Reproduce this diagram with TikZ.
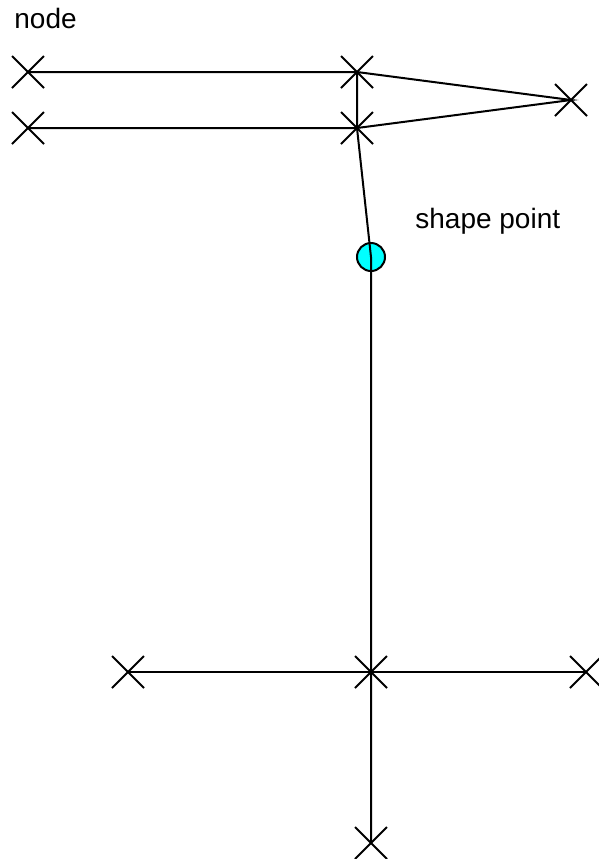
\documentclass[tikz,border=0pt]{standalone}
\usepackage{fontspec}
\setmainfont{Liberation Sans}
\usetikzlibrary{shapes.misc}
\definecolor{aqua}{RGB}{0,255,255}

\begin{document}
\begin{tikzpicture}[
        x=0.5pt, y=-0.5pt,
        mark_x/.style={cross out, draw=black, line width=1pt, minimum size=15pt, inner sep=0pt},
        shape_pt/.style={circle, draw=black, fill=aqua, line width=1pt, minimum size=14pt, inner sep=0pt},
        label_txt/.style={font=\fontsize{14}{16}\selectfont, anchor=base west, inner sep=0pt},
        link/.style={draw=black, line width=1pt}
    ]
    \useasboundingbox (0,0) rectangle (599,859);
    \node[label_txt] (node_lbl) at (14,28) {node};
    \node[label_txt] (shape_lbl) at (415,228) {shape point};
    \node[mark_x] (a1) at (28,72) {};
    \node[mark_x] (a2) at (28,128) {};
    \node[mark_x] (b1) at (357,72) {};
    \node[mark_x] (b2) at (357,128) {};
    \node[mark_x] (tip) at (571,100) {};
    \node[shape_pt] (sp) at (371,257) {};
    \node[mark_x] (hub) at (371,672) {};
    \node[mark_x] (left) at (128,672) {};
    \node[mark_x] (right) at (586,672) {};
    \node[mark_x] (foot) at (371,843) {};
    \draw[link] (a1.center) -- (b1.center) -- (tip.center) -- (b2.center) -- (a2.center);
    \draw[link] (b1.center) -- (b2.center) -- (sp.center) -- (hub.center) -- (foot.center);
    \draw[link] (left.center) -- (hub.center) -- (right.center);
\end{tikzpicture}
\end{document}
